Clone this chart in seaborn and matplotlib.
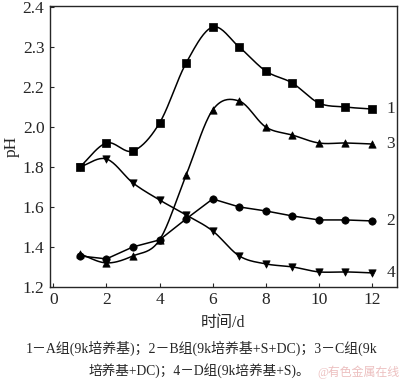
import numpy as np
import pandas as pd
import seaborn as sns
import matplotlib.pyplot as plt

sns.set_style("ticks")
plt.rcParams['font.family'] = ['Liberation Serif', 'Noto Sans CJK SC']

days = [1, 2, 3, 4, 5, 6, 7, 8, 9, 10, 11, 12]
# y values are on the plotted (evenly spaced) scale
ph_A = [1.80, 1.92, 1.88, 2.02, 2.32, 2.50, 2.40, 2.28, 2.22, 2.12, 2.10, 2.09]
ph_B = [1.355, 1.34, 1.40, 1.435, 1.54, 1.64, 1.60, 1.58, 1.555, 1.535, 1.535, 1.53]
ph_C = [1.365, 1.32, 1.355, 1.435, 1.76, 2.085, 2.13, 2.00, 1.96, 1.92, 1.92, 1.915]
ph_D = [1.80, 1.84, 1.72, 1.635, 1.56, 1.48, 1.355, 1.315, 1.30, 1.275, 1.275, 1.27]

ytick_pos = [1.2, 1.4, 1.6, 1.8, 2.0, 2.2, 2.4, 2.6]
ytick_lab = ["1.2", "1.4", "1.6", "1.8", "2.0", "2.2", "2.3", "2.4"]
xticks = [0, 2, 4, 6, 8, 10, 12]

series = [("1", ph_A, "s", True), ("2", ph_B, "o", False),
          ("3", ph_C, "^", True), ("4", ph_D, "v", True)]


def smooth(x, y, n=20):
    # catmull-rom curve through the points, for drawing only
    x = np.asarray(x, float); y = np.asarray(y, float)
    px = np.concatenate([[2 * x[0] - x[1]], x, [2 * x[-1] - x[-2]]])
    py = np.concatenate([[2 * y[0] - y[1]], y, [2 * y[-1] - y[-2]]])
    xs, ys = [], []
    t = np.linspace(0, 1, n, endpoint=False)
    for i in range(1, len(px) - 2):
        for p, out in ((px, xs), (py, ys)):
            p0, p1, p2, p3 = p[i - 1], p[i], p[i + 1], p[i + 2]
            out.extend(0.5 * (2 * p1 + (-p0 + p2) * t + (2 * p0 - 5 * p1 + 4 * p2 - p3) * t ** 2
                              + (-p0 + 3 * p1 - 3 * p2 + p3) * t ** 3))
    xs.append(x[-1]); ys.append(y[-1])
    return np.array(xs), np.array(ys)


fig = plt.figure(figsize=(4.0, 3.82), dpi=100)
ax = fig.add_axes([0.125, 0.249, 0.8675, 0.735])

for name, vals, mk, curved in series:
    if curved:
        sx, sy = smooth(days, vals)
    else:
        sx, sy = np.array(days, float), np.array(vals, float)
    ax.plot(sx, sy, color='black', lw=1.1)
    df = pd.DataFrame({"day": days, "ph": vals})
    sns.scatterplot(data=df, x="day", y="ph", marker=mk, s=28, color='black',
                    edgecolor='black', linewidth=0.5, ax=ax, zorder=3)
    ax.text(12.55, vals[-1], name, fontsize=12.5, va='center', ha='left')

ax.set_xlim(-0.124, 12.94)
ax.set_ylim(1.2, 2.605)
ax.set_xticks(xticks)
ax.set_yticks(ytick_pos)
ax.set_yticklabels(ytick_lab)
ax.tick_params(direction='in', length=3, width=0.8, labelsize=12.5, pad=4)
for s in ax.spines.values():
    s.set_linewidth(1.0)
ax.set_xlabel("时间/d", fontsize=11.5, labelpad=5)
ax.set_ylabel("pH", fontsize=12.5, labelpad=2)

fig.text(0.505, 0.089, "1－A组(9k培养基)；2－B组(9k培养基+S+DC)；3－C组(9k",
         ha='center', va='center', fontsize=10)
fig.text(0.22, 0.031, "培养基+DC)；4－D组(9k培养基+S)。",
         ha='left', va='center', fontsize=9.8)
fig.text(0.998, 0.026, "@有色金属在线", ha='right', va='center', fontsize=8.6,
         color='#e8b0b0', alpha=0.8)

fig.savefig("out.png", dpi=100)
